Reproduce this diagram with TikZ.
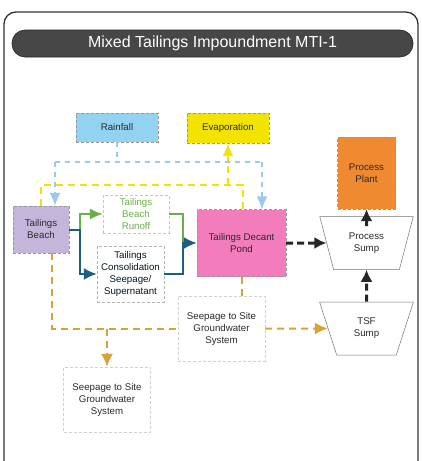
\documentclass[tikz,border=0pt]{standalone}
\usepackage{fontspec}
\setmainfont{Liberation Sans}
\usetikzlibrary{arrows.meta,shapes.geometric}
\definecolor{rainc}{HTML}{93D3F2}
\definecolor{rainl}{HTML}{9CC8F0}
\definecolor{evapc}{HTML}{F2E400}
\definecolor{plantc}{HTML}{F08A30}
\definecolor{pondc}{HTML}{F27CBC}
\definecolor{beachc}{HTML}{C4B6DA}
\definecolor{greenc}{HTML}{6AAE48}
\definecolor{bluec}{HTML}{1E5E84}
\definecolor{goldc}{HTML}{D9A238}
\definecolor{greytext}{HTML}{2A2A2A}
\begin{document}
\begin{tikzpicture}[x=1pt,y=-1pt,
  box/.style={draw=black!40, densely dashed, line width=0.4pt, align=center,
    font=\fontsize{9.7}{12}\selectfont, text=greytext, inner sep=1pt},
  sump/.style={trapezium, trapezium stretches=true, trapezium left angle=71,
    trapezium right angle=71, shape border rotate=180, draw=black!55, fill=white,
    line width=0.5pt, align=center, font=\fontsize{9.7}{12}\selectfont, text=greytext,
    minimum width=94pt, minimum height=53pt, inner sep=1pt},
  titlebar/.style={rectangle, rounded corners=13pt, fill=black!72, draw=black!85,
    line width=0.6pt, text=white, font=\fontsize{16}{18}\selectfont,
    minimum width=401pt, minimum height=27pt},
  rainline/.style={draw=rainl, line width=1.6pt, dash pattern=on 5pt off 5pt},
  evapline/.style={draw=evapc, line width=2pt, dash pattern=on 7pt off 5pt},
  seepline/.style={draw=goldc, line width=2pt, dash pattern=on 7pt off 5pt},
  greenline/.style={draw=greenc, line width=1.8pt},
  blueline/.style={draw=bluec, line width=2pt},
  blackdash/.style={draw=black!85, line width=3pt, dash pattern=on 7pt off 4pt},
  blacksolid/.style={draw=black!85, line width=3pt},
  tipR/.style={-{Latex[length=13pt,width=11pt,fill=rainl]}},
  tipY/.style={-{Latex[length=13pt,width=11pt,fill=evapc]}},
  tipS/.style={-{Latex[length=13pt,width=12pt,fill=goldc]}},
  tipG/.style={-{Latex[length=13pt,width=11pt,fill=greenc]}},
  tipB/.style={-{Latex[length=13pt,width=12pt,fill=bluec]}},
  tipK/.style={-{Latex[length=12pt,width=12pt]}}
]
\useasboundingbox (0,0) rectangle (422,461);
\fill[white] (0,0) rectangle (422,461);
% outer frame
\draw[line width=1.3pt, black!80, rounded corners=12pt] (4,480) -- (4,12) -- (418,12) -- (418,480);
% title
\node[titlebar] (title) at (212.5,43.5) {Mixed Tailings Impoundment MTI-1};

% nodes
\node[box, fill=rainc, minimum width=82pt, minimum height=29pt] (rain) at (117,127.5) {Rainfall};
\node[box, fill=evapc, minimum width=82pt, minimum height=30pt] (evap) at (228,128) {Evaporation};
\node[box, fill=plantc, minimum width=58pt, minimum height=72pt] (plant) at (366.5,173) {Process\\Plant};
\node[box, fill=pondc, minimum width=89pt, minimum height=67pt] (pond) at (241.5,243) {Tailings Decant\\Pond};
\node[box, fill=beachc, minimum width=56pt, minimum height=47pt] (beach) at (41,229.5) {Tailings\\Beach};
\node[box, fill=white, draw=black!22, text=greenc, minimum width=66pt, minimum height=38pt] (runoff) at (136,214) {Tailings\\Beach\\Runoff};
\node[box, fill=white, draw=black!30, text=black!75!bluec, minimum width=67pt, minimum height=56pt] (cons) at (130.5,274) {Tailings\\Consolidation\\Seepage/\\Supernatant};
\node[box, fill=white, draw=black!18, minimum width=87pt, minimum height=65pt] (midseep) at (221.5,328.5) {Seepage to Site\\Groundwater\\System};
\node[box, fill=white, draw=black!18, minimum width=87pt, minimum height=65pt] (blseep) at (107,399.5) {Seepage to Site\\Groundwater\\System};
\node[sump] (psump) at (366.5,243) {Process\\Sump};
\node[sump] (tsf) at (366.5,328.5) {TSF\\Sump};

% rainfall
\coordinate (rj) at (117,162);
\coordinate (rl) at (55,162);
\coordinate (rr) at (262,162);
\draw[rainline] (rain.south) -- (rj);
\draw[rainline] (rl) -- (rr);
\draw[rainline,tipR] (rl) -- (rl |- beach.north);
\draw[rainline,tipR] (rr) -- (rr |- pond.north);

% evaporation
\coordinate (yl) at (41,185);
\coordinate (yr) at (243,185);
\coordinate (ye) at (228,185);
\draw[evapline] (beach.north) -- (yl) -- (yr) -- (yr |- pond.north);
\draw[evapline,tipY] (ye) -- (evap.south);

% beach outflows
\coordinate (bj) at (80,229.5);
\draw[greenline,tipG] (bj) |- (runoff.west);
\draw[blueline,tipB] (beach.east) -- (bj) |- (cons.west);
\coordinate (pj) at (183,243);
\draw[greenline] (runoff.east) -| (pj);
\draw[blueline,tipB] (cons.east) -| (pj) -- (pond.west);

% black flows
\draw[blackdash,tipK] (pond.east) -- (psump.west);
\draw[blacksolid,tipK] ([yshift=-10pt]psump.north) -- (plant.south);
\draw[blackdash,tipK] (tsf.north) -- (psump.south);

% seepage
\coordinate (gl) at (52,328.5);
\coordinate (gb) at (107,328.5);
\draw[seepline] ([xshift=11pt]beach.south) -- (gl) -- (midseep.west);
\draw[seepline,tipS] (gb) -- (blseep.north);
\draw[seepline] (pond.south) -- (pond.south |- midseep.north);
\draw[seepline,tipS] (midseep.east) -- (tsf.west);
\end{tikzpicture}
\end{document}
